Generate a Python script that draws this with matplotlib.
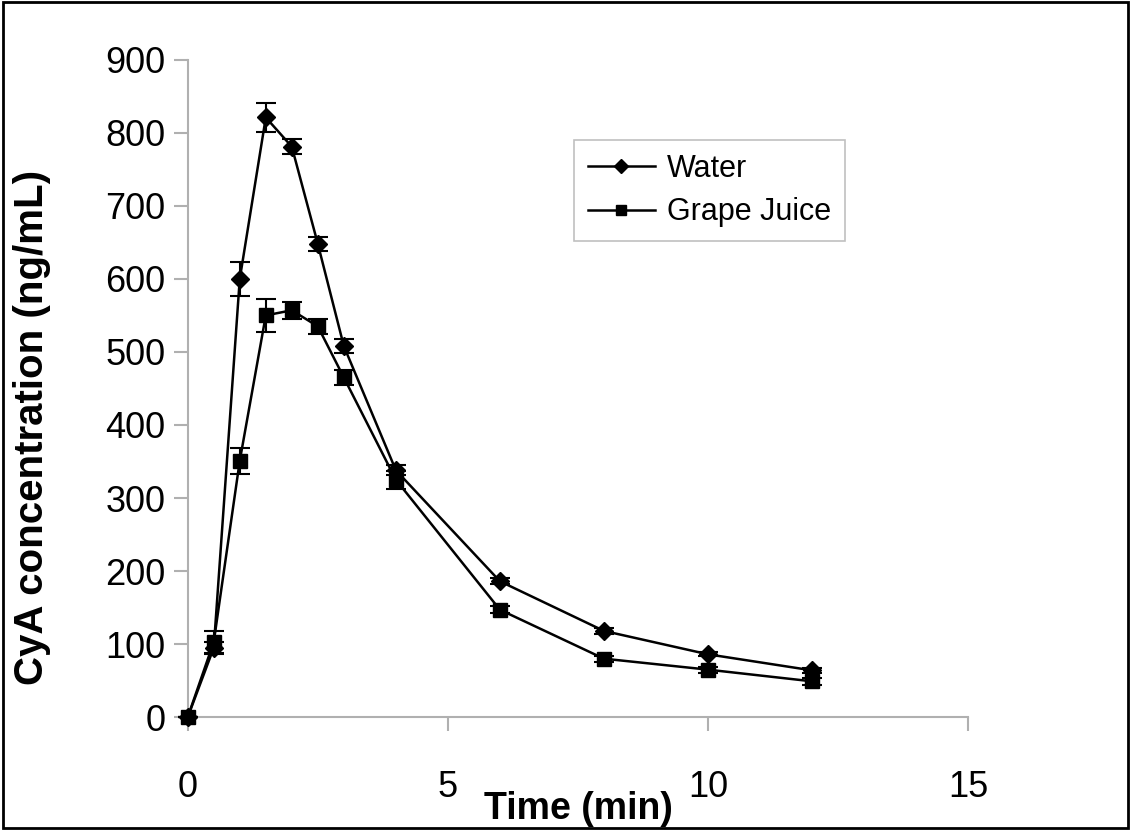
import matplotlib
matplotlib.use("Agg")
import matplotlib.pyplot as plt
from matplotlib.patches import Rectangle
from matplotlib.lines import Line2D

time = [0, 0.5, 1, 1.5, 2, 2.5, 3, 4, 6, 8, 10, 12]
water = [0, 95, 600, 821, 781, 648, 508, 338, 186, 118, 86, 64]
water_err = [0, 8, 23, 20, 10, 10, 10, 7, 4, 4, 3, 3]
grape = [0, 103, 351, 550, 557, 535, 465, 325, 147, 80, 65, 49]
grape_err = [0, 15, 18, 23, 12, 10, 10, 12, 5, 4, 4, 5]

plt.rcParams["font.family"] = ["Liberation Sans", "DejaVu Sans"]

fig = plt.figure(figsize=(11.31, 8.3), dpi=100)
ax = fig.add_axes([0.166, 0.136, 0.690, 0.792])

for y, e, m, ms in [(water, water_err, "D", 9), (grape, grape_err, "s", 10)]:
    ax.errorbar(time, y, yerr=e, color="black", lw=1.8, marker=m, ms=ms,
                capsize=7, elinewidth=1.5, capthick=1.5, zorder=3, clip_on=False)

ax.set_xlim(0, 15)
ax.set_ylim(0, 900)
ax.set_xticks([0, 5, 10, 15])
ax.set_yticks(range(0, 901, 100))
for s in ["top", "right"]:
    ax.spines[s].set_visible(False)
for s in ["left", "bottom"]:
    ax.spines[s].set_color("#b0b0b0")
    ax.spines[s].set_linewidth(1.5)
ax.tick_params(axis="both", colors="#b0b0b0", labelcolor="black", labelsize=26,
               length=10, width=1.5)
ax.tick_params(axis="x", pad=28)
ax.tick_params(axis="y", pad=6)

ax.set_xlabel("Time (min)", fontsize=27, fontweight="bold", labelpad=-10)
ax.set_ylabel("CyA concentration (ng/mL)", fontsize=29, fontweight="bold")
ax.yaxis.set_label_coords(-0.175, 0.44)

handles = [Line2D([], [], color="black", lw=1.8, marker="D", ms=7),
           Line2D([], [], color="black", lw=1.8, marker="s", ms=7)]
leg = ax.legend(handles, ["Water", "Grape Juice"], loc="upper left",
                bbox_to_anchor=(0.495, 0.878), fontsize=22, frameon=True,
                fancybox=False, handlelength=2.2, handletextpad=0.4,
                borderpad=0.45, labelspacing=0.45, borderaxespad=0)
leg.get_frame().set_edgecolor("#b0b0b0")
leg.get_frame().set_linewidth(1.2)

fig.patches.append(Rectangle((0.003, 0.003), 0.994, 0.994, transform=fig.transFigure,
                             fill=False, edgecolor="black", linewidth=2))

fig.savefig("out.png", dpi=100)
